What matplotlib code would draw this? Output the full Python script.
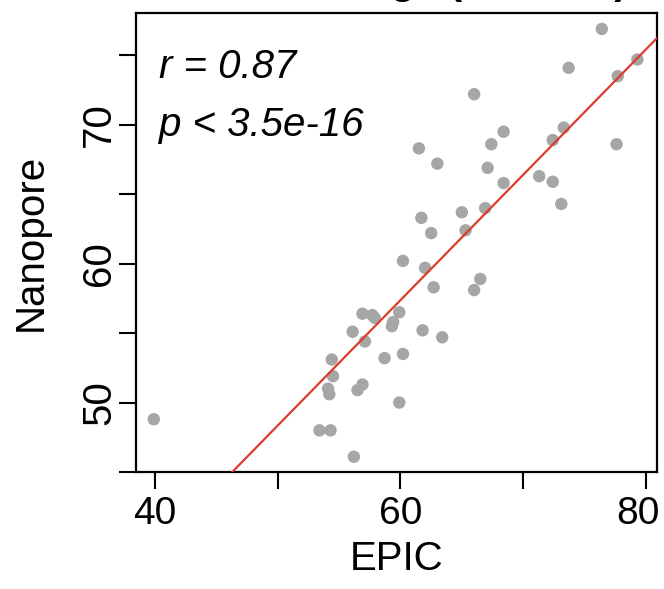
import matplotlib.pyplot as plt
import matplotlib.transforms as mtransforms
import numpy as np

plt.rcParams['font.family'] = ['Liberation Sans', 'DejaVu Sans']

# values
epic = [76.4, 79.3, 77.7, 73.7, 66.0, 61.5, 63.0, 77.6, 73.3, 72.4,
        68.4, 67.4, 67.1, 68.4, 71.3, 72.4, 73.1, 66.9, 65.0, 65.3,
        61.7, 62.5, 60.2, 62.0, 66.5, 66.0, 62.7, 56.9, 57.7, 57.9,
        59.9, 59.4, 59.3, 56.1, 57.1, 61.8, 63.4, 54.4, 58.7, 60.2,
        54.5, 54.1, 54.2, 56.9, 56.5, 59.9, 39.9, 53.4, 54.3, 56.2]
nanopore = [76.9, 74.7, 73.5, 74.1, 72.2, 68.3, 67.2, 68.6, 69.8, 68.9,
            69.5, 68.6, 66.9, 65.8, 66.3, 65.9, 64.3, 64.0, 63.7, 62.4,
            63.3, 62.2, 60.2, 59.7, 58.9, 58.1, 58.3, 56.4, 56.3, 56.1,
            56.5, 55.8, 55.5, 55.1, 54.4, 55.2, 54.7, 53.1, 53.2, 53.5,
            51.9, 51.0, 50.6, 51.3, 50.9, 50.0, 48.8, 48.0, 48.0, 46.1]
x_ticks = [40, 50, 60, 70, 80]
x_labels = ['40', '', '60', '', '80']
y_ticks = [45, 50, 55, 60, 65, 70, 75]
y_labels = ['', '50', '', '60', '', '70', '']
stats_text = ['r = 0.87', 'p < 3.5e-16']
title = 'DNAm age (Horvath)'

fig = plt.figure(figsize=(6.64, 5.89), dpi=100)
ax = fig.add_axes([0.2048, 0.1986, 0.7847, 0.7794])

ax.scatter(epic, nanopore, s=80, color='#A6A6A6', edgecolors='none', zorder=2)

# least squares fit line
slope, intercept = np.polyfit(epic, nanopore, 1)
xs = np.array([30, 90])
ax.plot(xs, slope * xs + intercept, color='#DD3C2C', lw=1.6, zorder=3)

ax.set_xlim(38.45, 80.9)
ax.set_ylim(45, 78.05)

ax.set_xticks(x_ticks)
ax.set_xticklabels(x_labels)
ax.set_yticks(y_ticks)
ax.set_yticklabels(y_labels, rotation=90, va='center')
ax.tick_params(direction='out', length=12, width=1.5, labelsize=28)
ax.tick_params(axis='x', pad=5)
ax.tick_params(axis='y', pad=1, labelsize=29)

# last x label is nudged left so it stays inside the figure (as R does)
last = ax.get_xticklabels()[-1]
last.set_transform(last.get_transform() +
                   mtransforms.ScaledTranslation(-0.08, 0, fig.dpi_scale_trans))

for s in ax.spines.values():
    s.set_linewidth(1.6)

ax.set_xlabel('EPIC', fontsize=29, labelpad=6)
ax.set_ylabel('Nanopore', fontsize=29, labelpad=22)

ax.text(0.045, 0.882, stats_text[0], transform=ax.transAxes, fontsize=29,
        style='italic', va='center', ha='left')
ax.text(0.045, 0.756, stats_text[1], transform=ax.transAxes, fontsize=29,
        style='italic', va='center', ha='left')

# title sits mostly above the visible area, as in the reference crop
fig.text(0.945, 1 + 6 / 589, title, fontsize=29, fontweight='bold',
         ha='right', va='baseline')

fig.savefig('out.png', dpi=100)
